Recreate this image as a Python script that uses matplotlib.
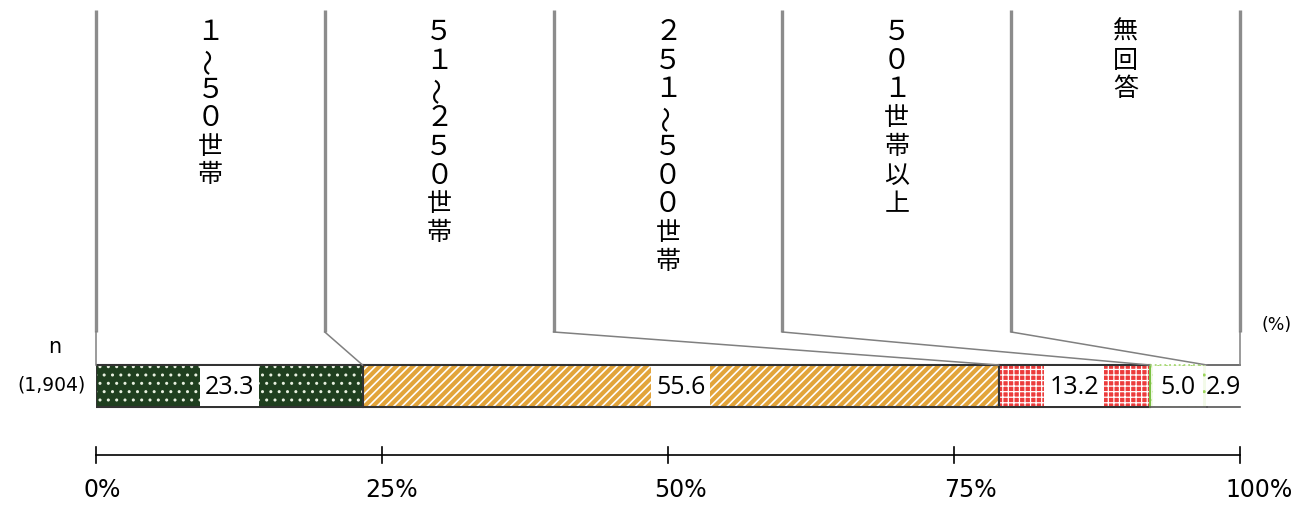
import matplotlib
matplotlib.use("Agg")
from matplotlib import pyplot as plt
from matplotlib.patches import Rectangle
import numpy as np

plt.rcParams['font.family'] = ['Noto Sans CJK JP', 'DejaVu Sans']

# data
categories = ["１～５０世帯", "５１～２５０世帯", "２５１～５００世帯", "５０１世帯以上", "無回答"]
values = [23.3, 55.6, 13.2, 5.0, 2.9]
n_label = "(1,904)"
tick_values = [0, 25, 50, 75, 100]

# styling per segment
faces = ['#1f3f1f', '#e2a43a', '#ec3c3c', '#f3fae9', 'white']
hatches = ['..', '////', '+++', '..', None]
hatch_cols = ['#e8f0e0', 'white', 'white', '#9ad45a', 'white']
hatch_lw = [1.0, 1.2, 0.9, 1.0, 1.0]
box_w = [5.2, 5.2, 5.2, 4.4, 3.0]

W, H = 1312, 507
fig = plt.figure(figsize=(W / 100, H / 100), dpi=100)
# axes spans the 0-100% range horizontally, pixel rows vertically
ax = fig.add_axes([96 / W, 0, 1144 / W, 1])
ax.set_xlim(0, 100)
ax.set_ylim(H, 0)
ax.axis('off')

bar_y, bar_h = 386, 42
top = bar_y - bar_h / 2
bot = bar_y + bar_h / 2

lefts = np.concatenate([[0], np.cumsum(values)[:-1]])
rights = lefts + np.array(values)

for i, v in enumerate(values):
    if hatches[i]:
        plt.rcParams['hatch.linewidth'] = hatch_lw[i]
        ax.barh(bar_y, v, left=lefts[i], height=bar_h, color=faces[i],
                hatch=hatches[i], edgecolor=hatch_cols[i], linewidth=0)
    else:
        ax.barh(bar_y, v, left=lefts[i], height=bar_h, color=faces[i], linewidth=0)
    if i < 3:
        ax.barh(bar_y, v, left=lefts[i], height=bar_h, fill=False,
                edgecolor='#333333', linewidth=1.5)
    elif i == 3:
        ax.plot([lefts[i], lefts[i]], [top, bot], color='#7bc043', lw=1.5)
        ax.plot([lefts[i], rights[i]], [top, top], color='#a8d878', lw=1.3, ls=':')
        ax.plot([lefts[i], rights[i]], [bot, bot], color='#555555', lw=1.2)
    else:
        ax.plot([lefts[i], rights[i]], [top, top], color='#555555', lw=1.2, clip_on=False)
        ax.plot([lefts[i], rights[i]], [bot, bot], color='#555555', lw=1.2, clip_on=False)

# value labels with white boxes
for i, v in enumerate(values):
    c = (lefts[i] + rights[i]) / 2
    ax.add_patch(Rectangle((c - box_w[i] / 2, top + 1), box_w[i], bar_h - 2,
                           facecolor='white', edgecolor='none', zorder=3))
    ax.text(c, bar_y + 1, f"{v:.1f}", ha='center', va='center', fontsize=18,
            zorder=4, family=['Open Sans', 'DejaVu Sans'])

# header columns
col_edges = np.linspace(0, 100, len(categories) + 1)
cum_edges = np.concatenate([[0], np.cumsum(values)])
cum_edges[-1] = 100
for k, xe in enumerate(col_edges):
    ax.plot([xe, xe], [10, 332], color='#8c8c8c', lw=2.4, clip_on=False,
            solid_capstyle='butt')
    ax.plot([xe, cum_edges[k]], [332, top], color='#808080', lw=1.1, clip_on=False)

for k, name in enumerate(categories):
    cx = (col_edges[k] + col_edges[k + 1]) / 2
    for j, ch in enumerate(name):
        y = 32 + 28.7 * j
        if ch in "～〜":
            ax.text(cx, y, "～", ha='center', va='center', fontsize=19, rotation=90)
        elif ch.isdigit():
            ax.text(cx, y, ch, ha='center', va='center', fontsize=20)
        else:
            ax.text(cx, y, ch, ha='center', va='center', fontsize=18)

# n label and unit
ax.text(-3.6, 347, "n", ha='center', va='center', fontsize=15, family='DejaVu Sans')
ax.text(-3.9, 385, n_label, ha='center', va='center', fontsize=13.5, family='DejaVu Sans')
ax.text(103.2, 325, "(%)", ha='center', va='center', fontsize=12.5, family='DejaVu Sans')

# percent axis
axis_y = 455
ax.plot([0, 100], [axis_y, axis_y], color='black', lw=1.2, clip_on=False)
for t in tick_values:
    ax.plot([t, t], [axis_y - 8, axis_y + 8], color='black', lw=1.2, clip_on=False)
    ax.text(0.5 + t * 1.012, 490, f"{t}%", ha='center', va='center', fontsize=17,
            family='DejaVu Sans')

fig.savefig("out.png", dpi=100)
